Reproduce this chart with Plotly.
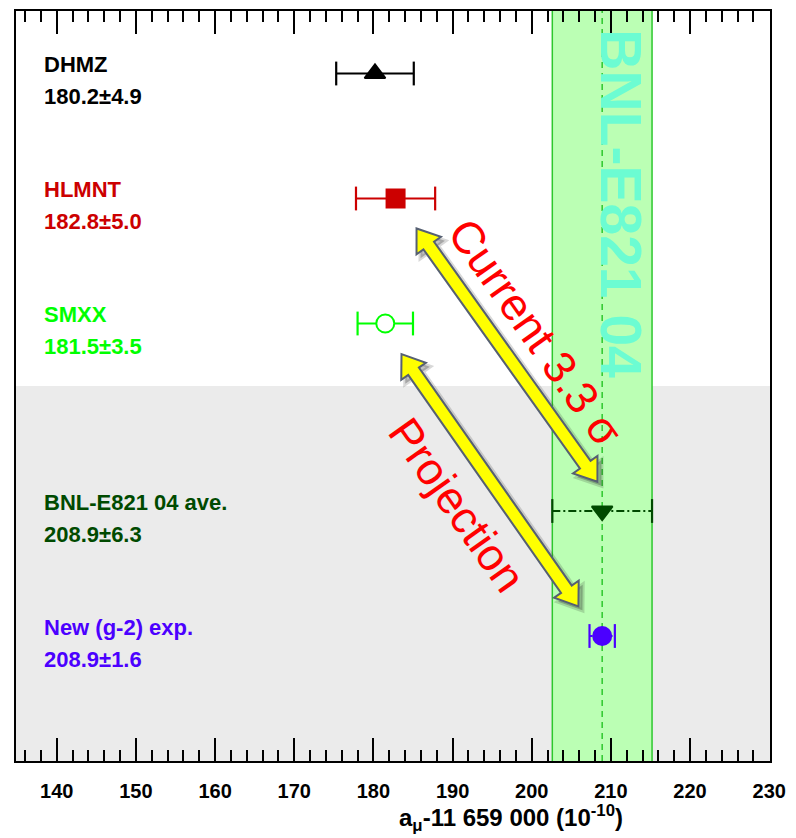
import math
import plotly.graph_objects as go

# ---------------- data ----------------
names = ["DHMZ", "HLMNT", "SMXX", "BNL-E821 04 ave.", "New (g-2) exp."]
values = [180.2, 182.8, 181.5, 208.9, 208.9]
errors = [4.9, 5.0, 3.5, 6.3, 1.6]
rows = [5.5, 4.5, 3.5, 2.0, 1.0]
colors = ["#000000", "#CC0000", "#00FF00", "#004A00", "#4B00FF"]
symbols = ["triangle-up", "square", "circle", "triangle-down", "circle"]
marker_fill = ["#000000", "#CC0000", "#FFFFFF", "#004A00", "#4B00FF"]
bar_dash = ["solid", "solid", "solid", "8px,3px,2px,3px", "3px,2px"]

band_center = 208.9
band_half = 6.3
band_label = "BNL-E821 04"

x_ticks = [140, 150, 160, 170, 180, 190, 200, 210, 220, 230]

# arrows: (start point, end point) in data coordinates, with label
arrow_ends = [((185.45, 4.26), (208.3, 2.234)),
              ((183.55, 3.255), (205.9, 1.237))]
arrow_texts = ["Current 3.3 σ", "Projection"]
arrow_text_pos = [(200.5, 3.43), (190.5, 2.05)]

# ---------------- geometry ----------------
W, H = 796, 838
ML, MR, MT, MB = 16, 26, 9, 77
XR = [134.85, 230.1]
YR = [0.0, 6.0]
PW, PH = W - ML - MR, H - MT - MB


def to_px(x, y):
    return (ML + (x - XR[0]) / (XR[1] - XR[0]) * PW,
            MT + (YR[1] - y) / (YR[1] - YR[0]) * PH)


def to_data(px, py):
    return (XR[0] + (px - ML) / PW * (XR[1] - XR[0]),
            YR[1] - (py - MT) / PH * (YR[1] - YR[0]))


def arrow_path(p1, p2, dx=0.0, dy=0.0, sw=6.5, hw=15.0, hl=21.0):
    a = to_px(*p1)
    b = to_px(*p2)
    L = math.hypot(b[0] - a[0], b[1] - a[1])
    ux, uy = (b[0] - a[0]) / L, (b[1] - a[1]) / L
    nx, ny = -uy, ux
    b1 = (a[0] + ux * hl, a[1] + uy * hl)
    b2 = (b[0] - ux * hl, b[1] - uy * hl)
    pts = [a,
           (b1[0] + nx * hw, b1[1] + ny * hw),
           (b1[0] + nx * sw, b1[1] + ny * sw),
           (b2[0] + nx * sw, b2[1] + ny * sw),
           (b2[0] + nx * hw, b2[1] + ny * hw),
           b,
           (b2[0] - nx * hw, b2[1] - ny * hw),
           (b2[0] - nx * sw, b2[1] - ny * sw),
           (b1[0] - nx * sw, b1[1] - ny * sw),
           (b1[0] - nx * hw, b1[1] - ny * hw)]
    d = []
    for i, (px, py) in enumerate(pts):
        x, y = to_data(px + dx, py + dy)
        d.append(("M" if i == 0 else "L") + f"{x:.4f},{y:.4f}")
    return " ".join(d) + " Z"


FONT = "Liberation Sans, Arial, Helvetica, sans-serif"

fig = go.Figure()

# error bars
for v, e, r, c, ds in zip(values, errors, rows, colors, bar_dash):
    fig.add_trace(go.Scatter(x=[v - e, v + e], y=[r, r], mode="lines",
                             line=dict(color=c, width=2, dash=ds),
                             hoverinfo="skip", showlegend=False))
    fig.add_trace(go.Scatter(x=[v - e, v + e], y=[r, r], mode="markers",
                             marker=dict(symbol="line-ns", size=17,
                                         line=dict(color=c, width=2.2)),
                             hoverinfo="skip", showlegend=False))

# markers
for v, r, c, s, f in zip(values, rows, colors, symbols, marker_fill):
    fig.add_trace(go.Scatter(x=[v], y=[r], mode="markers",
                             marker=dict(symbol=s, size=18, color=f,
                                         line=dict(color=c, width=2)),
                             showlegend=False))

shapes = []
# gray lower region
shapes.append(dict(type="rect", xref="paper", yref="y", x0=0, x1=1, y0=0, y1=3,
                   fillcolor="#EBEBEB", line=dict(width=0), layer="below"))
# green band
shapes.append(dict(type="rect", xref="x", yref="paper",
                   x0=band_center - band_half, x1=band_center + band_half, y0=0, y1=1,
                   fillcolor="#BBFFB4", line=dict(width=0), layer="below"))
for xe in (band_center - band_half, band_center + band_half):
    shapes.append(dict(type="line", xref="x", yref="paper", x0=xe, x1=xe, y0=0, y1=1,
                       line=dict(color="#2DC82D", width=1.5), layer="below"))
shapes.append(dict(type="line", xref="x", yref="paper", x0=band_center, x1=band_center,
                   y0=0, y1=1, line=dict(color="#2DC82D", width=1.5, dash="6px,5px"),
                   layer="below"))

# arrows with shadows
for p1, p2 in arrow_ends:
    shapes.append(dict(type="path", xref="x", yref="y", path=arrow_path(p1, p2, 4, 4),
                       fillcolor="rgba(40,40,40,0.28)",
                       line=dict(color="rgba(40,40,40,0.18)", width=4)))
    shapes.append(dict(type="path", xref="x", yref="y", path=arrow_path(p1, p2),
                       fillcolor="#FFFF00", line=dict(color="#566072", width=2)))

annotations = []
for n, v, e, r, c in zip(names, values, errors, rows, colors):
    annotations.append(dict(xref="paper", yref="y", x=(42 - ML) / PW, y=r,
                            text=n, showarrow=False, xanchor="left", yanchor="middle",
                            yshift=9, font=dict(family=FONT, size=22, color=c, weight="bold")))
    annotations.append(dict(xref="paper", yref="y", x=(42 - ML) / PW, y=r,
                            text=f"{v}±{e}", showarrow=False, xanchor="left",
                            yanchor="middle", yshift=-23,
                            font=dict(family=FONT, size=22, color=c, weight="bold")))

# band label
annotations.append(dict(xref="x", yref="y", x=211.3, y=4.46, text=band_label,
                        showarrow=False, textangle=90,
                        font=dict(family=FONT, size=57, color="#6CFCD2", weight="bold")))

# arrow texts
for t, (tx, ty) in zip(arrow_texts, arrow_text_pos):
    annotations.append(dict(xref="x", yref="y", x=tx, y=ty, text=t, showarrow=False,
                            textangle=54.7,
                            font=dict(family=FONT, size=45, color="#FF0000")))

# axis title
annotations.append(dict(xref="paper", yref="paper", x=(511 - ML) / PW, y=(MT + PH - 818) / PH,
                        text="a<sub>μ</sub>-11 659 000 (10<sup>-10</sup>)", showarrow=False,
                        xanchor="center", yanchor="middle",
                        font=dict(family=FONT, size=24, color="#000000", weight="bold")))

fig.update_layout(
    width=W, height=H,
    margin=dict(l=ML, r=MR, t=MT, b=MB),
    paper_bgcolor="#FFFFFF", plot_bgcolor="#FFFFFF",
    shapes=shapes, annotations=annotations,
    xaxis=dict(range=XR, showgrid=False, zeroline=False,
               showline=True, linecolor="#000000", linewidth=2, mirror="ticks",
               ticks="inside", ticklen=23, tickwidth=1.5, tickcolor="#000000",
               tickvals=x_ticks, ticktext=[str(t) for t in x_ticks],
               tickfont=dict(family=FONT, size=20, color="#000000", weight="bold"),
               ticklabelstandoff=11,
               minor=dict(dtick=2, ticks="inside", ticklen=11, tickwidth=1.5,
                          tickcolor="#000000", showgrid=False)),
    yaxis=dict(range=YR, showgrid=False, zeroline=False, showticklabels=False,
               showline=True, linecolor="#000000", linewidth=2, mirror=True, ticks=""),
)

fig.write_html("out.html")
